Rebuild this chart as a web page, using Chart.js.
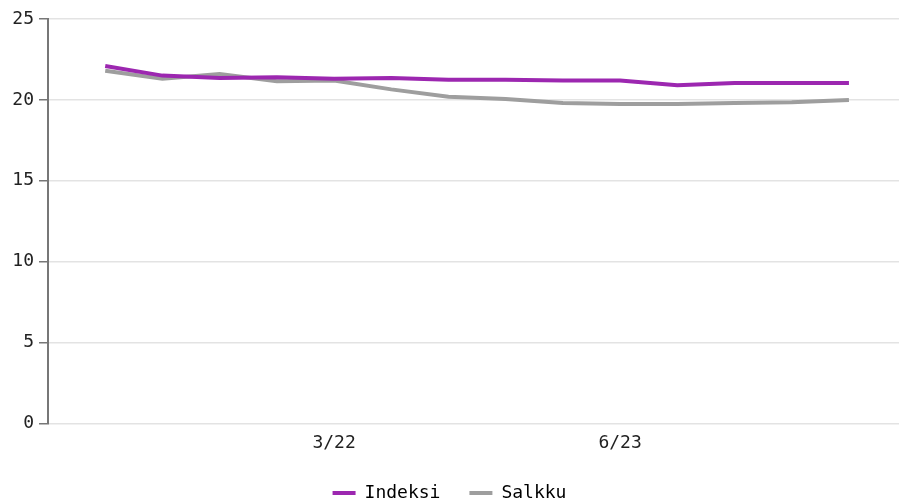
<!DOCTYPE html>
<html>
<head>
<meta charset="utf-8">
<script src="https://cdn.jsdelivr.net/npm/chart.js@4"></script>
<style>
  html, body { margin: 0; padding: 0; background: #fff; }
  #wrap { width: 899px; height: 500px; }
</style>
</head>
<body>
<div id="wrap"><canvas id="chart"></canvas></div>
<script>
// quarters, only two of them get a label on the axis
const quarters = ['3/21', '6/21', '9/21', '12/21', '3/22', '6/22', '9/22', '12/22', '3/23', '6/23', '9/23', '12/23', '3/24', '6/24']
const shownQuarters = ['3/22', '6/23']
const indeksi = [22.1, 21.5, 21.35, 21.4, 21.3, 21.35, 21.25, 21.25, 21.2, 21.2, 20.9, 21.05, 21.05, 21.05]
const salkku = [21.8, 21.3, 21.6, 21.15, 21.2, 20.65, 20.2, 20.05, 19.8, 19.75, 19.75, 19.8, 19.85, 20.0]
const yTicks = [0, 5, 10, 15, 20, 25]

const font = { family: '"DejaVu Sans Mono", monospace', size: 18 }
Chart.defaults.font = font
Chart.defaults.color = '#222'

const toPoints = (arr) => arr.map((v, i) => ({ x: i, y: v }))

const chart = new Chart(document.getElementById('chart').getContext('2d'), {
  type: 'line',
  data: {
    datasets: [
      { label: 'Indeksi', data: toPoints(indeksi), borderColor: '#9c27b0', backgroundColor: '#9c27b0', borderWidth: 4, pointRadius: 0, tension: 0 },
      { label: 'Salkku', data: toPoints(salkku), borderColor: '#9e9e9e', backgroundColor: '#9e9e9e', borderWidth: 4, pointRadius: 0, tension: 0 },
    ],
  },
  options: {
    responsive: true,
    maintainAspectRatio: false,
    animation: false,
    layout: { padding: { top: 19, right: 0, left: 0, bottom: -12 } },
    plugins: {
      tooltip: { enabled: false },
      legend: {
        position: 'bottom',
        labels: {
          boxWidth: 23,
          boxHeight: 4,
          padding: 29,
          generateLabels(c) {
            return c.data.datasets.map((d, i) => ({
              text: d.label,
              fillStyle: d.borderColor,
              strokeStyle: d.borderColor,
              lineWidth: 0,
              datasetIndex: i,
            }))
          },
        },
      },
    },
    scales: {
      x: {
        type: 'linear',
        min: -1,
        max: 13.875,
        grid: { display: false },
        border: { display: false },
        afterBuildTicks(scale) {
          scale.ticks = shownQuarters.map((q) => ({ value: quarters.indexOf(q) }))
        },
        ticks: {
          autoSkip: false,
          maxRotation: 0,
          padding: 1,
          callback: (v) => quarters[v],
        },
      },
      y: {
        min: 0,
        max: 25,
        afterBuildTicks(scale) {
          scale.ticks = yTicks.map((v) => ({ value: v }))
        },
        afterFit(scale) { scale.width = 48 },
        grid: { color: '#e3e3e3', lineWidth: 1.5, tickColor: '#777', tickLength: 9 },
        border: { display: true, color: '#777', width: 2 },
        ticks: { padding: 5 },
      },
    },
  },
})
</script>
</body>
</html>
